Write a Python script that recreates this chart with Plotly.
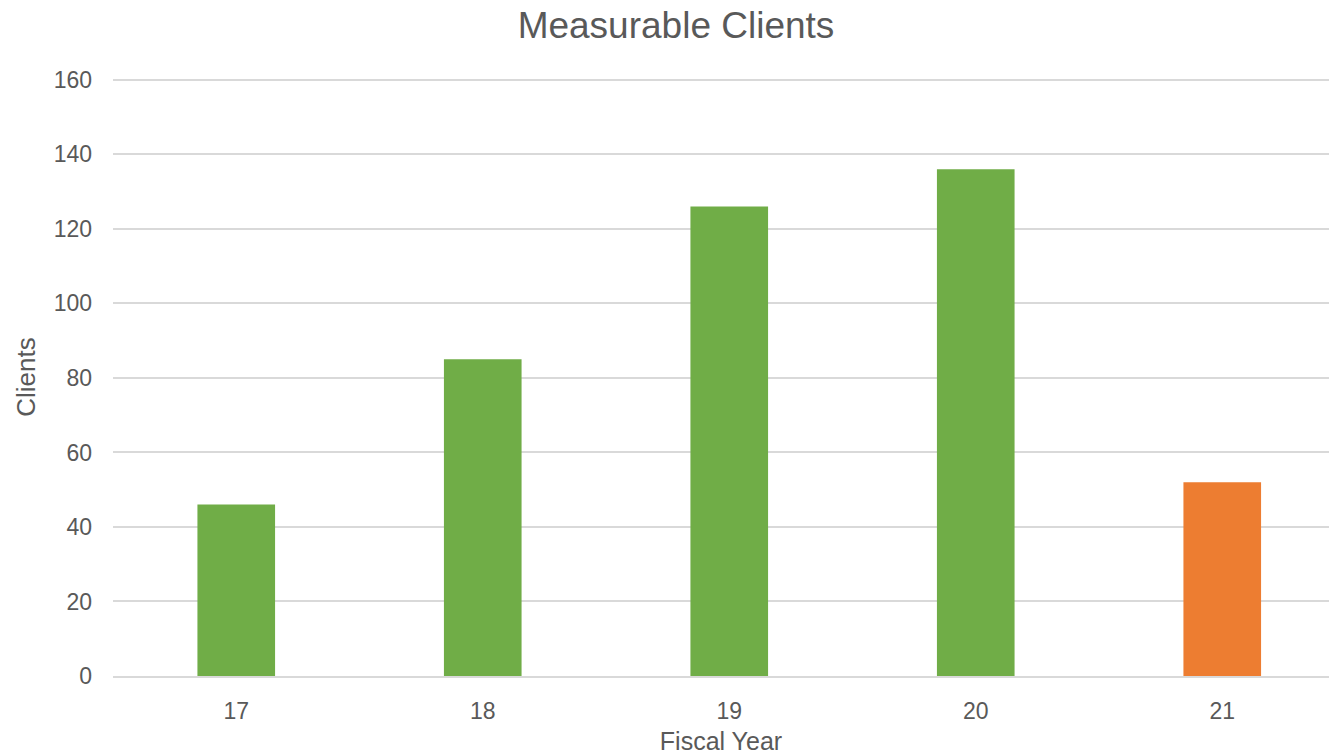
import plotly.graph_objects as go

years = ["17", "18", "19", "20", "21"]
clients = [46, 85, 126, 136, 52]
bar_colors = ["#70AD47", "#70AD47", "#70AD47", "#70AD47", "#ED7D31"]
y_ticks = [0, 20, 40, 60, 80, 100, 120, 140, 160]

W, H = 1329, 755
left, top, bottom = 113, 78, 79
cat_px = 246.5
plot_w = W - left
n_visible = plot_w / cat_px

fig = go.Figure(go.Bar(x=years, y=clients, marker=dict(color=bar_colors, line=dict(width=0)),
                       width=0.315))

font = "Liberation Sans, Arial, sans-serif"
txt = "#595959"
fig.update_layout(
    width=W, height=H,
    margin=dict(l=left, r=0, t=top, b=bottom, pad=0),
    paper_bgcolor="white", plot_bgcolor="white",
    showlegend=False,
    font=dict(family=font, color=txt, size=23),
    title=dict(text="Measurable Clients", x=676 / W, xanchor="center", y=1 - 25 / H, yanchor="middle",
               font=dict(size=37, color=txt, family=font)),
)
fig.update_xaxes(
    type="category", range=[-0.5, -0.5 + n_visible],
    showgrid=False, showline=True, linecolor="#D9D9D9", linewidth=1.5,
    ticks="", ticklabelstandoff=14,
    tickfont=dict(size=23, color=txt),
    title=dict(text="Fiscal Year", font=dict(size=25, color=txt), standoff=10),
)
fig.update_yaxes(
    range=[0, 160.5], tickvals=y_ticks, showgrid=True, gridcolor="#D9D9D9", gridwidth=1.5,
    zeroline=False, showline=False, ticks="", ticklabelstandoff=20,
    tickfont=dict(size=23, color=txt),
    title=dict(text="Clients", font=dict(size=26, color=txt), standoff=10),
)
fig.write_html("out.html")
